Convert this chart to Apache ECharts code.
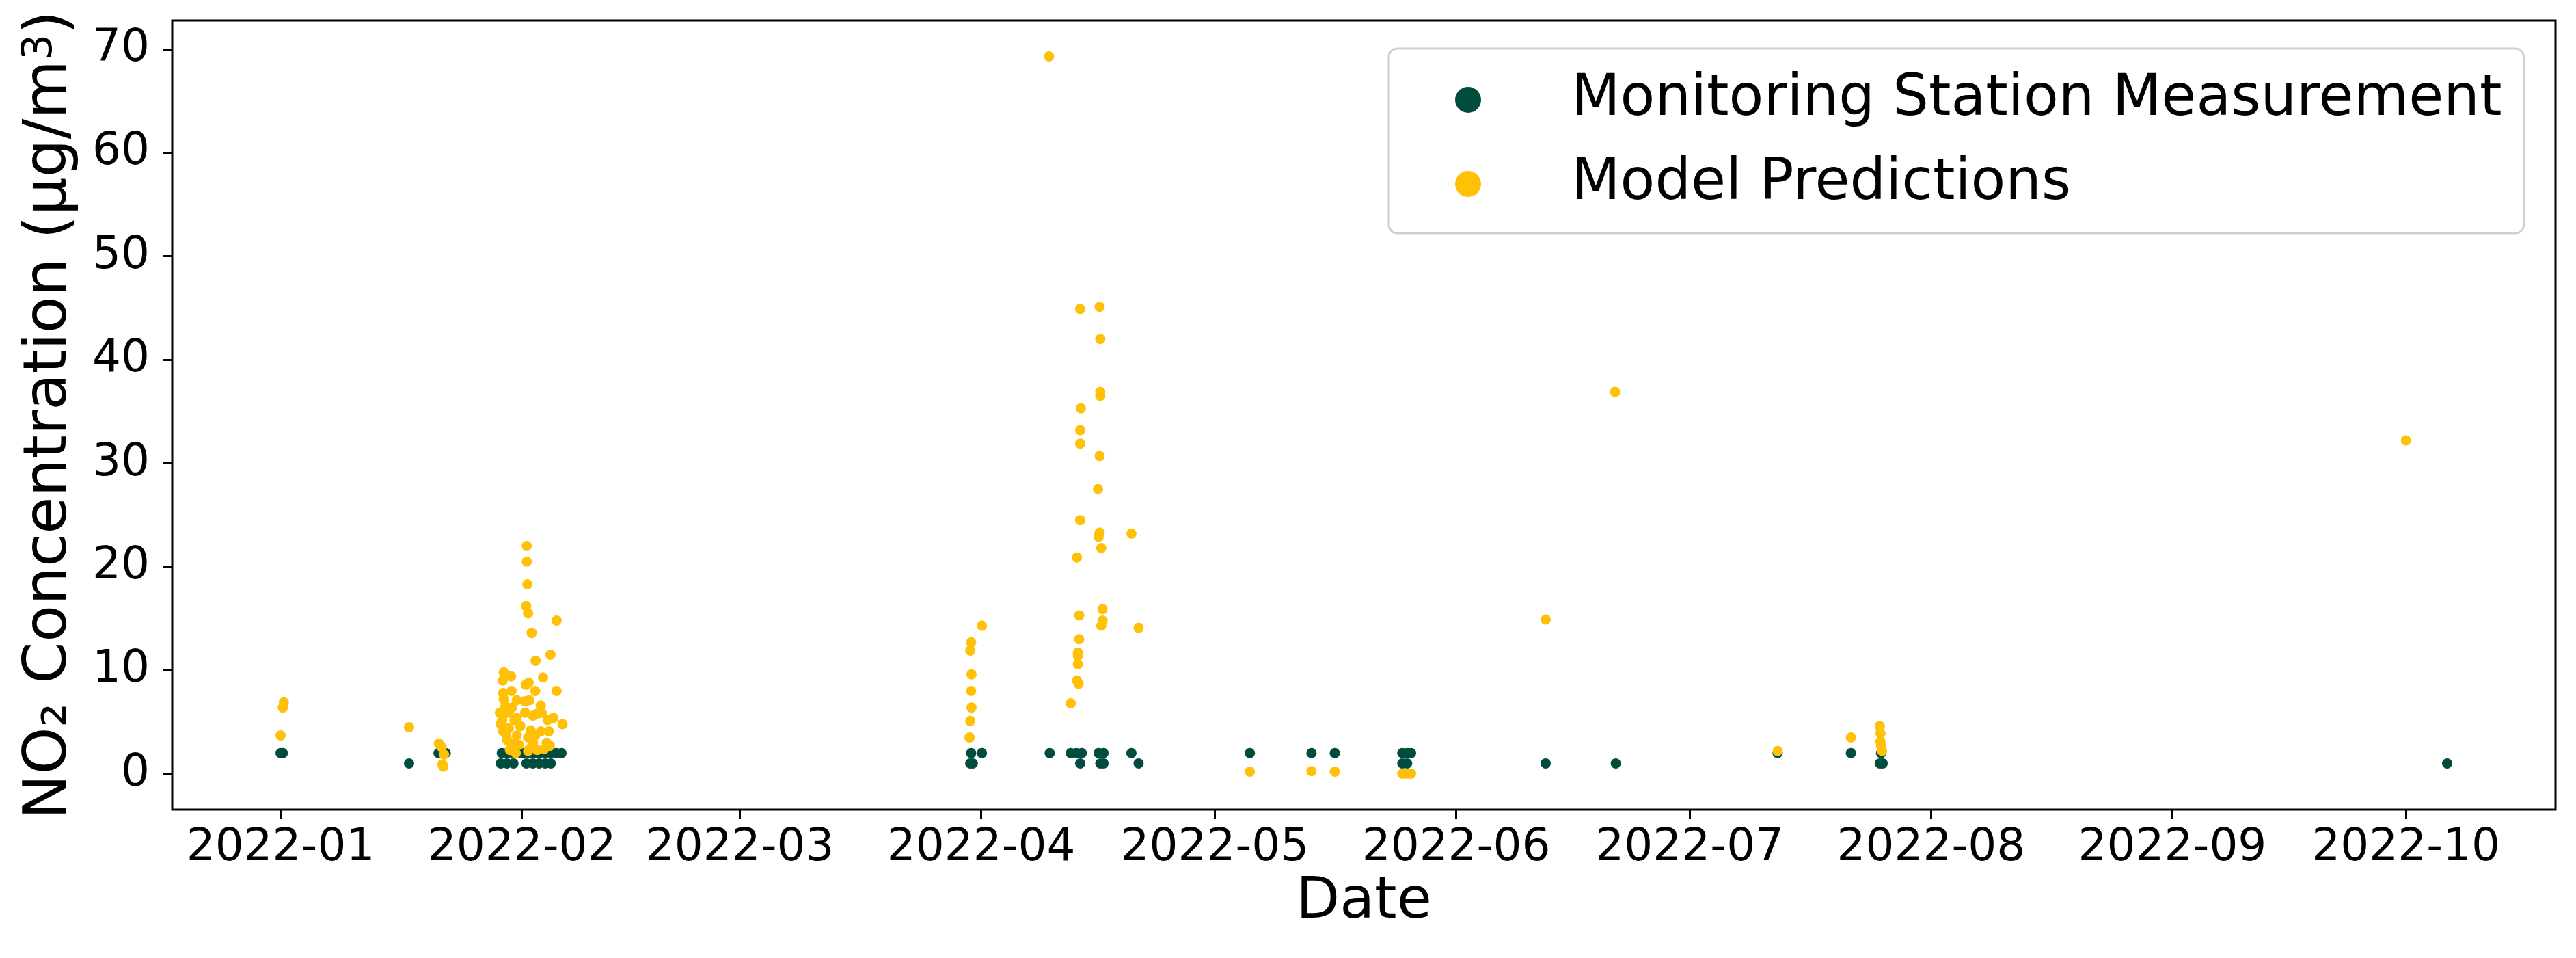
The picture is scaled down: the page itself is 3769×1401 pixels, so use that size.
<!DOCTYPE html>
<html>
<head>
<meta charset="utf-8">
<title>NO2 concentration</title>
<script src="https://cdn.jsdelivr.net/npm/echarts@6/dist/echarts.min.js"></script>
<style>
  html, body { margin: 0; padding: 0; background: #fff; }
  #chart { width: 3769px; height: 1401px; }
</style>
</head>
<body>
<div id="chart"></div>
<script>
// station measurements
var stationTime = [
  '2022-01-01 00:00', '2022-01-01 07:00', '2022-01-17 12:00', '2022-01-21 07:00', '2022-01-22 05:00',
  '2022-01-29 10:00', '2022-01-30 02:00', '2022-01-30 19:00', '2022-01-31 12:00', '2022-02-01 05:00',
  '2022-02-01 22:00', '2022-02-02 14:00', '2022-02-03 07:00', '2022-02-04 00:00', '2022-02-04 17:00',
  '2022-02-05 10:00', '2022-02-06 02:00',
  '2022-01-29 07:00', '2022-01-30 02:00', '2022-01-30 22:00', '2022-02-01 14:00', '2022-02-02 10:00',
  '2022-02-03 05:00', '2022-02-04 00:00', '2022-02-04 17:00',
  '2022-03-30 17:00', '2022-04-01 02:00', '2022-03-30 14:00', '2022-03-30 22:00',
  '2022-04-09 19:00', '2022-04-12 12:00', '2022-04-13 05:00', '2022-04-13 22:00', '2022-04-13 17:00',
  '2022-04-16 02:00', '2022-04-16 17:00', '2022-04-16 07:00', '2022-04-16 17:00', '2022-04-20 07:00',
  '2022-04-21 05:00',
  '2022-05-05 12:00', '2022-05-13 10:00', '2022-05-16 10:00', '2022-05-25 02:00', '2022-05-25 17:00',
  '2022-05-26 05:00', '2022-05-25 02:00', '2022-05-25 17:00',
  '2022-06-12 12:00', '2022-06-21 12:00',
  '2022-07-12 07:00', '2022-07-21 17:00', '2022-07-25 14:00', '2022-07-25 10:00', '2022-07-25 19:00',
  '2022-10-06 07:00'
];
var stationValue = [
  2, 2, 1, 2, 2,
  2, 2, 2, 2, 2,
  2, 2, 2, 2, 2,
  2, 2,
  1, 1, 1, 1, 1,
  1, 1, 1,
  2, 2, 1, 1,
  2, 2, 2, 2, 1,
  2, 2, 1, 1, 2,
  1,
  2, 2, 2, 2, 2,
  2, 1, 1,
  1, 1,
  2, 2, 2, 1, 1,
  1
];

// model predictions
var modelTime = [
  '2022-01-01 10:00', '2022-01-01 07:00', '2022-01-01 00:00', '2022-01-17 12:00',
  '2022-01-21 08:00', '2022-01-21 17:00', '2022-01-22 00:00', '2022-01-21 19:00', '2022-01-21 22:00',
  '2022-02-01 15:00', '2022-02-01 15:00', '2022-02-01 17:00', '2022-02-01 13:00', '2022-02-01 19:00',
  '2022-02-05 11:00', '2022-02-02 06:00', '2022-02-04 16:00', '2022-02-02 18:00', '2022-01-29 16:00',
  '2022-01-30 15:00', '2022-01-29 13:00', '2022-02-03 17:00', '2022-02-01 12:00', '2022-02-01 21:00',
  '2022-02-02 17:00', '2022-02-05 11:00', '2022-01-30 16:00', '2022-01-29 14:00', '2022-01-29 16:00',
  '2022-01-31 08:00', '2022-02-01 09:00', '2022-02-01 23:00', '2022-02-03 10:00', '2022-01-29 21:00',
  '2022-01-30 18:00', '2022-01-29 04:00', '2022-01-30 04:00', '2022-02-01 10:00', '2022-02-02 10:00',
  '2022-02-02 23:00', '2022-02-03 13:00', '2022-01-31 08:00', '2022-02-04 07:00', '2022-02-05 01:00',
  '2022-02-06 05:00', '2022-01-29 07:00', '2022-01-31 19:00', '2022-01-30 08:00', '2022-02-02 03:00',
  '2022-02-03 10:00', '2022-02-04 11:00', '2022-01-29 21:00', '2022-01-31 08:00', '2022-02-01 19:00',
  '2022-02-02 17:00', '2022-01-30 04:00', '2022-02-04 04:00', '2022-02-02 10:00', '2022-01-30 18:00',
  '2022-01-31 15:00', '2022-02-04 14:00', '2022-02-01 23:00', '2022-01-30 11:00', '2022-02-02 23:00',
  '2022-02-03 21:00', '2022-01-31 05:00', '2022-02-01 19:00', '2022-01-29 11:00', '2022-01-29 14:00',
  '2022-01-30 01:00', '2022-01-31 01:00',
  '2022-03-30 17:00', '2022-03-30 14:00', '2022-03-30 18:00', '2022-03-30 17:00', '2022-03-30 18:00',
  '2022-03-30 14:00', '2022-03-30 12:00', '2022-04-01 02:00',
  '2022-04-09 17:00', '2022-04-12 12:00',
  '2022-04-13 17:00', '2022-04-13 19:00', '2022-04-13 17:00', '2022-04-13 17:00', '2022-04-13 17:00',
  '2022-04-13 07:00', '2022-04-13 14:00', '2022-04-13 14:00', '2022-04-13 10:00', '2022-04-13 10:00',
  '2022-04-13 10:00', '2022-04-13 07:00', '2022-04-13 12:00',
  '2022-04-16 05:00', '2022-04-16 07:00', '2022-04-16 07:00', '2022-04-16 07:00', '2022-04-16 05:00',
  '2022-04-16 00:00', '2022-04-16 05:00', '2022-04-16 02:00', '2022-04-16 10:00', '2022-04-16 14:00',
  '2022-04-16 14:00', '2022-04-16 10:00',
  '2022-04-20 07:00', '2022-04-21 05:00',
  '2022-05-05 12:00', '2022-05-13 10:00', '2022-05-16 10:00', '2022-05-25 02:00', '2022-05-25 17:00',
  '2022-05-26 05:00',
  '2022-06-12 12:00', '2022-06-21 10:00',
  '2022-07-12 07:00', '2022-07-21 17:00', '2022-07-25 10:00', '2022-07-25 12:00', '2022-07-25 12:00',
  '2022-07-25 14:00', '2022-07-25 17:00',
  '2022-10-01 00:00'
];
var modelValue = [
  6.9, 6.4, 3.7, 4.5,
  2.9, 2.55, 1.85, 0.9, 0.7,
  22.0, 20.5, 18.3, 16.2, 15.5,
  14.8, 13.6, 11.5, 10.9, 9.8,
  9.4, 9.0, 9.3, 8.6, 8.8,
  8.0, 8.0, 8.0, 7.8, 7.2,
  7.1, 7.0, 7.1, 6.6, 6.5,
  6.4, 5.9, 5.9, 5.9, 5.6,
  5.8, 5.9, 5.4, 5.2, 5.4,
  4.8, 4.8, 4.6, 4.4, 4.2,
  4.1, 4.1, 3.9, 3.7, 3.5,
  3.7, 3.2, 3.0, 3.0, 2.9,
  2.8, 2.7, 2.4, 2.3, 2.3,
  2.4, 2.0, 2.2, 5.2, 4.1,
  3.4, 5.2,
  12.7, 11.9, 9.6, 8.0, 6.4,
  5.1, 3.5, 14.3,
  69.3, 6.8,
  44.9, 35.3, 33.2, 31.9, 24.5,
  20.9, 15.3, 13.0, 11.7, 11.4,
  10.6, 9.0, 8.7,
  45.1, 42.0, 36.9, 36.5, 30.7,
  27.5, 23.3, 22.9, 21.8, 15.9,
  14.8, 14.3,
  23.2, 14.1,
  0.2, 0.25, 0.2, 0.0, 0.0,
  0.0,
  14.9, 36.9,
  2.2, 3.5, 4.6, 3.9, 3.1,
  2.7, 2.2,
  32.2
];

var monthTicks = ['2022-01-01', '2022-02-01', '2022-03-01', '2022-04-01', '2022-05-01',
  '2022-06-01', '2022-07-01', '2022-08-01', '2022-09-01', '2022-10-01'];
var yTicks = [0, 10, 20, 30, 40, 50, 60, 70];

var FONT = 'DejaVu Sans';

function toStamp(d) {
  return +echarts.time.parse(d);
}

function zip(t, v) {
  return t.map(function (d, i) { return [toStamp(d), v[i]]; });
}

var chart = echarts.init(document.getElementById('chart'));
var tickStamps = monthTicks.map(toStamp);

chart.setOption({
  animation: false,
  backgroundColor: '#fff',
  grid: {
    left: 252, right: 30, top: 30, bottom: 217,
    show: true, borderColor: '#000', borderWidth: 3, backgroundColor: 'transparent'
  },
  legend: {
    orient: 'vertical',
    left: 2032, top: 71,
    padding: [25, 32, 22, 97],
    itemWidth: 38, itemHeight: 38, itemGap: 23,
    icon: 'circle',
    backgroundColor: 'rgba(255,255,255,0.8)',
    borderColor: '#d0d0d0', borderWidth: 3, borderRadius: 12,
    textStyle: { fontFamily: FONT, fontSize: 83, color: '#000', lineHeight: 100, padding: [0, 0, 0, 127] },
    data: ['Monitoring Station Measurement', 'Model Predictions']
  },
  xAxis: {
    type: 'value',
    min: toStamp('2021-12-18 02:00'),
    max: toStamp('2022-10-20 05:00'),
    name: 'Date',
    nameLocation: 'middle',
    nameGap: 95,
    nameTextStyle: { fontFamily: FONT, fontSize: 83, color: '#000' },
    axisLine: { show: false, onZero: false },
    axisTick: { show: true, customValues: tickStamps, length: 14, lineStyle: { color: '#000', width: 3 } },
    axisLabel: {
      customValues: tickStamps,
      margin: 24,
      fontFamily: FONT, fontSize: 66, color: '#000',
      formatter: function (val) { return echarts.time.format(val, '{yyyy}-{MM}', false); }
    },
    splitLine: { show: false }
  },
  yAxis: {
    type: 'value',
    min: -3.465,
    max: 72.765,
    name: 'NO\u2082 Concentration (\u00b5g/m{sup|3})',
    nameLocation: 'middle',
    nameGap: 135,
    nameTextStyle: {
      fontFamily: FONT, fontSize: 88, color: '#000',
      rich: { sup: { fontFamily: FONT, fontSize: 60, color: '#000', verticalAlign: 'top' } }
    },
    axisLine: { show: false, onZero: false },
    axisTick: { show: true, customValues: yTicks, length: 14, lineStyle: { color: '#000', width: 3 } },
    axisLabel: { customValues: yTicks, margin: 33, fontFamily: FONT, fontSize: 66, color: '#000' },
    splitLine: { show: false }
  },
  series: [
    {
      name: 'Monitoring Station Measurement',
      type: 'scatter',
      symbolSize: 15,
      itemStyle: { color: '#004D40', opacity: 1 },
      data: zip(stationTime, stationValue)
    },
    {
      name: 'Model Predictions',
      type: 'scatter',
      symbolSize: 15,
      itemStyle: { color: '#FFC107', opacity: 1 },
      data: zip(modelTime, modelValue)
    }
  ]
});
</script>
</body>
</html>
